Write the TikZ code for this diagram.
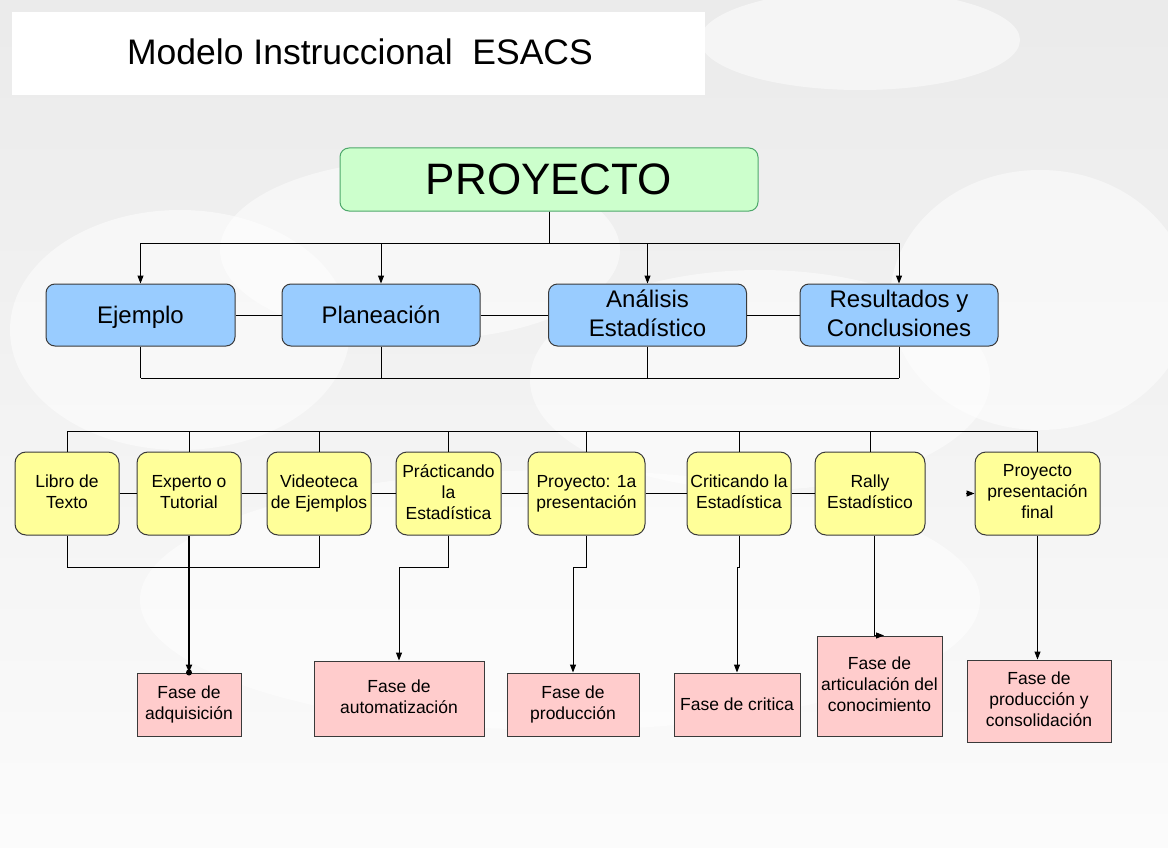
\documentclass[tikz,border=0pt]{standalone}
\usepackage{fontspec}
\setmainfont{Liberation Sans}
\usetikzlibrary{arrows.meta}
\definecolor{proyfill}{HTML}{CCFFCC}
\definecolor{proyline}{HTML}{4DA86A}
\definecolor{bluefill}{HTML}{99CCFF}
\definecolor{yellowfill}{HTML}{FFFF99}
\definecolor{pinkfill}{HTML}{FFCCCC}
\definecolor{boxline}{HTML}{3A3A3A}
\newcommand\boxstrut{\rule[-0.15\baselineskip]{0pt}{0.9\baselineskip}}
\tikzset{
	box/.style={draw=boxline, line width=1pt, align=center, inner sep=1pt, text=black,
		execute at begin node=\boxstrut, execute at end node=\boxstrut},
	proybox/.style={box, draw=proyline, fill=proyfill, rounded corners=9pt,
		minimum width=418pt, minimum height=63pt, font=\fontsize{44}{50}\selectfont},
	bluebox/.style={box, fill=bluefill, rounded corners=9pt,
		minimum width=198pt, minimum height=62pt, font=\fontsize{24}{29}\selectfont},
	yellowbox/.style={box, fill=yellowfill, rounded corners=11pt,
		minimum width=104pt, minimum height=83pt, font=\fontsize{17.5}{21}\selectfont},
	pinkbox/.style={box, fill=pinkfill, minimum height=63pt,
		font=\fontsize{17.5}{21}\selectfont},
	conn/.style={line width=1pt, black},
	arrow/.style={conn, -{Triangle[length=8pt,width=6pt]}},
	cloud/.style={fill=white, opacity=0.5}
}

\begin{document}
\begin{tikzpicture}[x=1pt, y=-1pt]
\useasboundingbox (0,0) rectangle (1168,848);
% background
\fill[top color=gray!16, bottom color=gray!3] (0,0) rectangle (1168,848);
\fill[cloud] (180,330) ellipse (170 and 120);
\fill[cloud] (420,250) ellipse (200 and 90);
\fill[cloud] (760,380) ellipse (230 and 110);
\fill[cloud] (1040,300) ellipse (150 and 130);
\fill[cloud] (860,40) ellipse (160 and 50);
\fill[cloud] (560,600) ellipse (420 and 130);
\fill[white] (12,12) rectangle (705,95);
\node (title) at (360,52) {\fontsize{35.5}{42}\selectfont Modelo Instruccional\ \ ESACS};

% top level
\node[proybox] (proy) at (549,179.5) {PROYECTO};
\node[bluebox, minimum width=189pt] (ejemplo) at (140.5,315) {Ejemplo};
\node[bluebox] (plan) at (381,315) {Planeación};
\node[bluebox] (anal) at (647.5,315) {Análisis\\Estadístico};
\node[bluebox] (result) at (899,315) {Resultados y\\Conclusiones};

\coordinate (busA) at (549,243);
\coordinate (busB) at (549,378);
\foreach \n in {ejemplo, plan, anal, result}
	\draw[arrow] (proy.south) |- (\n.north |- busA) -- (\n.north);
\draw[conn] (ejemplo) -- (plan) (plan) -- (anal) (anal) -- (result);
\foreach \n in {ejemplo, plan, anal, result}
	\draw[conn] (\n.south) -- (\n.south |- busB);
\draw[conn] (ejemplo.south |- busB) -- (result.south |- busB);

% activities
\node[yellowbox] (libro) at (67,493.5) {Libro de\\Texto};
\node[yellowbox] (experto) at (189,493.5) {Experto o\\Tutorial};
\node[yellowbox] (video) at (319,493.5) {Videoteca\\de Ejemplos};
\node[yellowbox, minimum width=105pt] (pract) at (448.5,493.5) {Prácticando\\la\\Estadística};
\node[yellowbox, minimum width=117pt] (proy1) at (586.5,493.5) {Proyecto: 1a\\presentación};
\node[yellowbox] (crit) at (739,493.5) {Criticando la\\Estadística};
\node[yellowbox, minimum width=110pt] (rally) at (870,493.5) {Rally\\Estadístico};
\node[yellowbox, minimum width=125pt] (final) at (1037.5,493.5) {Proyecto\\presentación\\final};

\coordinate (busC) at (549,431);
\foreach \n in {libro, experto, video, pract, proy1, crit, rally, final}
	\draw[conn] (\n.north) -- (\n.north |- busC);
\draw[conn] (libro.north |- busC) -- (final.north |- busC);
\draw[conn] (libro) -- (experto) (experto) -- (video) (video) -- (pract)
	(pract) -- (proy1) (proy1) -- (crit) (crit) -- (rally);
\coordinate (finstub) at (966,493.5);
\draw[arrow] (finstub) -- (final.west);

% phases
\node[pinkbox, minimum width=104pt] (adq) at (189,704.5) {Fase de\\adquisición};
\node[pinkbox, minimum width=170pt, minimum height=75pt] (auto) at (399,698.5) {Fase de\\automatización};
\node[pinkbox, minimum width=132pt] (prod) at (573,704.5) {Fase de\\producción};
\node[pinkbox, minimum width=126pt] (critf) at (737,704.5) {Fase de critica};
\node[pinkbox, minimum width=125pt, minimum height=100pt] (artic) at (879.5,686) {Fase de\\articulación del\\conocimiento};
\node[pinkbox, minimum width=144pt, minimum height=82pt] (consol) at (1039,701) {Fase de\\producción y\\consolidación};

\coordinate (busD) at (549,567);
\draw[conn] (libro.south) -- (libro.south |- busD) -- (video.south |- busD) -- (video.south);
\draw[arrow, line width=2pt] (experto.south) -- (adq.north);
\fill (adq.north) circle (3pt);
\draw[arrow] (pract.south) |- (auto.north |- busD) -- (auto.north);
\draw[arrow] (proy1.south) |- (prod.north |- busD) -- (prod.north);
\draw[arrow] (crit.south) |- (critf.north |- busD) -- (critf.north);
\draw[arrow] ([xshift=4pt]rally.south) -- ([xshift=4pt]rally.south |- artic.north) -- ++(10,0);
\draw[arrow] (final.south) -- (final.south |- consol.north);
\end{tikzpicture}
\end{document}
